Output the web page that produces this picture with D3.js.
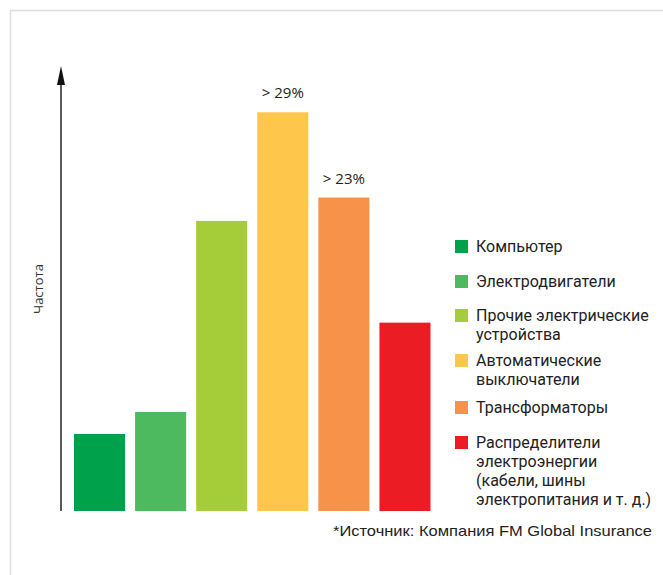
<!DOCTYPE html>
<html>
<head>
<meta charset="utf-8">
<script src="https://cdn.jsdelivr.net/npm/d3@7"></script>
<style>
  html, body { margin: 0; padding: 0; background: #fff; }
  svg { display: block; }
</style>
</head>
<body>
<script>
const categories = ["Компьютер", "Электродвигатели", "Прочие электрические устройства", "Автоматические выключатели", "Трансформаторы", "Распределители электроэнергии (кабели, шины электропитания и т. д.)"];
const values = [5.6, 7.2, 21.1, 29, 22.8, 13.7];
const valueLabels = ["", "", "", "> 29%", "> 23%", ""];
const colors = ["#00a14b", "#4dba60", "#a5cd39", "#fec64b", "#f7924a", "#ec1c24"];
const legendLines = [["Компьютер"], ["Электродвигатели"], ["Прочие электрические", "устройства"], ["Автоматические", "выключатели"], ["Трансформаторы"], ["Распределители", "электроэнергии", "(кабели, шины", "электропитания и т. д.)"]];
const legendY = [252, 287, 321, 366, 413, 448];
const axisTitle = "Частота";
const source = "*Источник: Компания FM Global Insurance";

const W = 663, H = 575;
const svg = d3.select("body").append("svg").attr("width", W).attr("height", H);

// frame
svg.append("path").attr("d", `M10.5,${H} V10.5 H${W}`).attr("fill", "none")
  .attr("stroke", "#dedede").attr("stroke-width", 1.5);

const baseY = 511;
const x = d3.scaleBand().domain(categories).range([74, 430.5]).paddingInner(0.164).paddingOuter(0);
const y = d3.scaleLinear().domain([0, 29]).range([baseY, 112.3]);

// bars
svg.selectAll("rect.bar").data(categories).join("rect").attr("class", "bar")
  .attr("x", d => x(d)).attr("width", x.bandwidth())
  .attr("y", (d, i) => y(values[i])).attr("height", (d, i) => baseY - y(values[i]))
  .attr("fill", (d, i) => colors[i]);

// value labels
svg.selectAll("text.val").data(categories).join("text").attr("class", "val")
  .attr("x", d => x(d) + x.bandwidth() / 2)
  .attr("y", (d, i) => y(values[i]) - 14)
  .attr("text-anchor", "middle")
  .attr("font-family", "Open Sans").attr("font-size", 15).attr("fill", "#222")
  .text((d, i) => valueLabels[i]);

// axis arrow
svg.append("line").attr("x1", 61).attr("x2", 61).attr("y1", baseY).attr("y2", 80)
  .attr("stroke", "#222").attr("stroke-width", 1.5);
svg.append("path").attr("d", "M61,66 L65,85 L57,85 Z").attr("fill", "#111");

svg.append("text").attr("transform", "translate(43,289) rotate(-90)")
  .attr("text-anchor", "middle").attr("font-family", "Open Sans").attr("font-size", 13)
  .attr("fill", "#333").text(axisTitle);

// legend
const lg = svg.append("g");
categories.forEach((c, i) => {
  const y0 = legendY[i];
  lg.append("rect").attr("x", 455).attr("y", y0 - 12).attr("width", 13).attr("height", 13).attr("fill", colors[i]);
  const t = lg.append("text").attr("x", 476).attr("y", y0)
    .attr("font-family", "Roboto").attr("font-size", 16).attr("fill", "#222");
  legendLines[i].forEach((line, j) => {
    t.append("tspan").attr("x", 476).attr("dy", j === 0 ? 0 : 19).text(line);
  });
});

svg.append("text").attr("x", 652).attr("y", 536).attr("text-anchor", "end")
  .attr("font-family", "Liberation Sans").attr("font-size", 14.5)
  .attr("textLength", 319).attr("lengthAdjust", "spacingAndGlyphs")
  .attr("fill", "#222").text(source);
</script>
</body>
</html>
